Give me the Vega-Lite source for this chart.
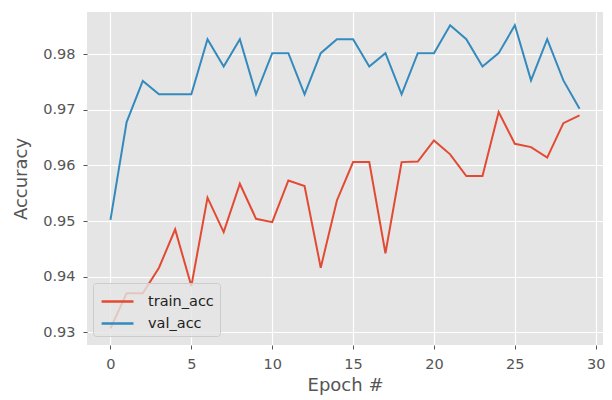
{
  "$schema": "https://vega.github.io/schema/vega-lite/v6.json",
  "width": 516,
  "height": 333,
  "autosize": {"type": "none"},
  "padding": {"left": 87, "top": 12, "right": 9, "bottom": 55},
  "background": "white",
  "config": {
    "view": {"fill": "#E5E5E5", "stroke": null},
    "font": "DejaVu Sans"
  },
  "data": {
    "values": [
      {"epoch": 0, "series": "train_acc", "acc": 0.9307},
      {"epoch": 1, "series": "train_acc", "acc": 0.9370},
      {"epoch": 2, "series": "train_acc", "acc": 0.9370},
      {"epoch": 3, "series": "train_acc", "acc": 0.9416},
      {"epoch": 4, "series": "train_acc", "acc": 0.9485},
      {"epoch": 5, "series": "train_acc", "acc": 0.9383},
      {"epoch": 6, "series": "train_acc", "acc": 0.9542},
      {"epoch": 7, "series": "train_acc", "acc": 0.9480},
      {"epoch": 8, "series": "train_acc", "acc": 0.9567},
      {"epoch": 9, "series": "train_acc", "acc": 0.9504},
      {"epoch": 10, "series": "train_acc", "acc": 0.9498},
      {"epoch": 11, "series": "train_acc", "acc": 0.9573},
      {"epoch": 12, "series": "train_acc", "acc": 0.9563},
      {"epoch": 13, "series": "train_acc", "acc": 0.9416},
      {"epoch": 14, "series": "train_acc", "acc": 0.9537},
      {"epoch": 15, "series": "train_acc", "acc": 0.9606},
      {"epoch": 16, "series": "train_acc", "acc": 0.9606},
      {"epoch": 17, "series": "train_acc", "acc": 0.9442},
      {"epoch": 18, "series": "train_acc", "acc": 0.9606},
      {"epoch": 19, "series": "train_acc", "acc": 0.9607},
      {"epoch": 20, "series": "train_acc", "acc": 0.9645},
      {"epoch": 21, "series": "train_acc", "acc": 0.9620},
      {"epoch": 22, "series": "train_acc", "acc": 0.9581},
      {"epoch": 23, "series": "train_acc", "acc": 0.9581},
      {"epoch": 24, "series": "train_acc", "acc": 0.9696},
      {"epoch": 25, "series": "train_acc", "acc": 0.9639},
      {"epoch": 26, "series": "train_acc", "acc": 0.9633},
      {"epoch": 27, "series": "train_acc", "acc": 0.9614},
      {"epoch": 28, "series": "train_acc", "acc": 0.9676},
      {"epoch": 29, "series": "train_acc", "acc": 0.9690},
      {"epoch": 0, "series": "val_acc", "acc": 0.9502},
      {"epoch": 1, "series": "val_acc", "acc": 0.9678},
      {"epoch": 2, "series": "val_acc", "acc": 0.9752},
      {"epoch": 3, "series": "val_acc", "acc": 0.9728},
      {"epoch": 4, "series": "val_acc", "acc": 0.9728},
      {"epoch": 5, "series": "val_acc", "acc": 0.9728},
      {"epoch": 6, "series": "val_acc", "acc": 0.9827},
      {"epoch": 7, "series": "val_acc", "acc": 0.9778},
      {"epoch": 8, "series": "val_acc", "acc": 0.9827},
      {"epoch": 9, "series": "val_acc", "acc": 0.9728},
      {"epoch": 10, "series": "val_acc", "acc": 0.9802},
      {"epoch": 11, "series": "val_acc", "acc": 0.9802},
      {"epoch": 12, "series": "val_acc", "acc": 0.9728},
      {"epoch": 13, "series": "val_acc", "acc": 0.9802},
      {"epoch": 14, "series": "val_acc", "acc": 0.9827},
      {"epoch": 15, "series": "val_acc", "acc": 0.9827},
      {"epoch": 16, "series": "val_acc", "acc": 0.9778},
      {"epoch": 17, "series": "val_acc", "acc": 0.9802},
      {"epoch": 18, "series": "val_acc", "acc": 0.9728},
      {"epoch": 19, "series": "val_acc", "acc": 0.9802},
      {"epoch": 20, "series": "val_acc", "acc": 0.9802},
      {"epoch": 21, "series": "val_acc", "acc": 0.9852},
      {"epoch": 22, "series": "val_acc", "acc": 0.9827},
      {"epoch": 23, "series": "val_acc", "acc": 0.9778},
      {"epoch": 24, "series": "val_acc", "acc": 0.9802},
      {"epoch": 25, "series": "val_acc", "acc": 0.9852},
      {"epoch": 26, "series": "val_acc", "acc": 0.9753},
      {"epoch": 27, "series": "val_acc", "acc": 0.9827},
      {"epoch": 28, "series": "val_acc", "acc": 0.9753},
      {"epoch": 29, "series": "val_acc", "acc": 0.9702}
    ]
  },
  "mark": {"type": "line", "strokeWidth": 2, "clip": true},
  "encoding": {
    "x": {
      "field": "epoch",
      "type": "quantitative",
      "scale": {"domain": [-1.45, 30.45], "nice": false, "zero": false},
      "axis": {
        "title": "Epoch #",
        "values": [0, 5, 10, 15, 20, 25, 30],
        "format": "d",
        "grid": true,
        "gridColor": "white",
        "gridWidth": 1.2,
        "domain": false,
        "tickColor": "#555555",
        "tickSize": 4,
        "labelColor": "#555555",
        "labelFontSize": 14.5,
        "labelPadding": 8,
        "titleColor": "#555555",
        "titleFontSize": 18,
        "titleFontWeight": "normal",
        "titlePadding": 6
      }
    },
    "y": {
      "field": "acc",
      "type": "quantitative",
      "scale": {"domain": [0.9277, 0.9876], "nice": false, "zero": false},
      "axis": {
        "title": "Accuracy",
        "values": [0.93, 0.94, 0.95, 0.96, 0.97, 0.98],
        "format": ".2f",
        "grid": true,
        "gridColor": "white",
        "gridWidth": 1.2,
        "domain": false,
        "tickColor": "#555555",
        "tickSize": 4,
        "labelColor": "#555555",
        "labelFontSize": 14.5,
        "labelPadding": 8,
        "titleColor": "#555555",
        "titleFontSize": 18,
        "titleFontWeight": "normal",
        "titlePadding": 12
      }
    },
    "color": {
      "field": "series",
      "type": "nominal",
      "scale": {"domain": ["train_acc", "val_acc"], "range": ["#E24A33", "#348ABD"]},
      "legend": {
        "title": null,
        "orient": "none",
        "legendX": 6,
        "legendY": 271,
        "fillColor": "rgba(229,229,229,0.8)",
        "strokeColor": "#CCCCCC",
        "cornerRadius": 3,
        "padding": 6,
        "symbolType": "M-0.9,0H2",
        "symbolStrokeWidth": 2.5,
        "symbolSize": 484,
        "labelFontSize": 14.5,
        "labelColor": "#222222",
        "labelOffset": 24,
        "rowPadding": 3
      }
    }
  }
}
